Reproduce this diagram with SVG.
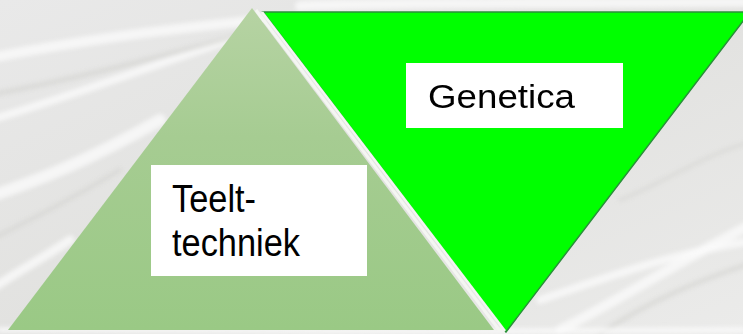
<svg xmlns="http://www.w3.org/2000/svg" width="743" height="334" viewBox="0 0 743 334">
  <defs>
    <linearGradient id="bg" x1="0" y1="0" x2="1" y2="1">
      <stop offset="0" stop-color="#e9e9e9"/>
      <stop offset="0.5" stop-color="#e2e2e0"/>
      <stop offset="1" stop-color="#ebebea"/>
    </linearGradient>
    <linearGradient id="lg" x1="0" y1="0" x2="0" y2="1">
      <stop offset="0" stop-color="#b6d3a3"/>
      <stop offset="0.4" stop-color="#a6cc92"/>
      <stop offset="1" stop-color="#9ac985"/>
    </linearGradient>
    <filter id="soft" x="-10%" y="-10%" width="120%" height="120%">
      <feGaussianBlur stdDeviation="2"/>
    </filter>
  </defs>
  <style>
    .box { fill: #ffffff; }
    .lbl { font-family: "Liberation Sans", Arial, sans-serif; fill: #000000; }
    .straw { fill: none; stroke: #fafafa; stroke-linecap: round; opacity: 0.8; }
    .straw2 { fill: none; stroke: #cfcfcc; stroke-linecap: round; opacity: 0.5; }
  </style>

  <g id="background">
    <rect x="0" y="0" width="743" height="334" fill="url(#bg)"/>
    <g filter="url(#soft)">
      <path class="straw" stroke-width="10" d="M-20 60 C 80 40 160 30 260 20"/>
      <path class="straw" stroke-width="8" d="M-10 120 C 60 100 140 70 230 40"/>
      <path class="straw2" stroke-width="5" d="M-10 95 C 70 80 150 60 240 35"/>
      <path class="straw" stroke-width="12" d="M-20 200 C 40 180 90 160 160 120"/>
      <path class="straw2" stroke-width="4" d="M-10 240 C 30 220 70 200 120 170"/>
      <path class="straw" stroke-width="9" d="M-10 290 C 20 270 40 260 70 240"/>
      <path class="straw" stroke-width="10" d="M560 330 C 620 300 680 260 760 220"/>
      <path class="straw2" stroke-width="5" d="M600 334 C 650 300 700 280 760 260"/>
      <path class="straw" stroke-width="8" d="M540 300 C 600 280 680 250 760 240"/>
      <path class="straw" stroke-width="10" d="M300 6 C 400 2 520 4 743 2"/>
      <path class="straw2" stroke-width="3" d="M620 200 C 670 180 710 150 760 140"/>
      <path class="straw" stroke-width="6" d="M0 330 C 200 332 500 332 743 330"/>
    </g>
  </g>

  <g id="teelttechniek">
    <polygon points="252,8 8,330 494,330" fill="url(#lg)"/>
    <line x1="256" y1="10" x2="500" y2="331" stroke="#f4f6f2" stroke-width="3"/>
    <rect class="box" x="151" y="165" width="216" height="111"/>
    <text class="lbl" font-size="38" transform="translate(172,212) scale(0.905,1)">Teelt-</text>
    <text class="lbl" font-size="38" transform="translate(172,256) scale(0.905,1)">techniek</text>
  </g>

  <g id="genetica">
    <polygon points="263,12 750,12 506,332" fill="#00ff00" stroke="#2a8f3a" stroke-width="1.5" stroke-linejoin="miter"/>
    <line x1="262" y1="12" x2="505" y2="331" stroke="#f4f6f2" stroke-width="2.5"/>
    <rect class="box" x="406" y="63" width="217" height="65"/>
    <text class="lbl" font-size="34" transform="translate(428,108) scale(1.08,1)">Genetica</text>
  </g>

  <g id="connectors"/>
</svg>
